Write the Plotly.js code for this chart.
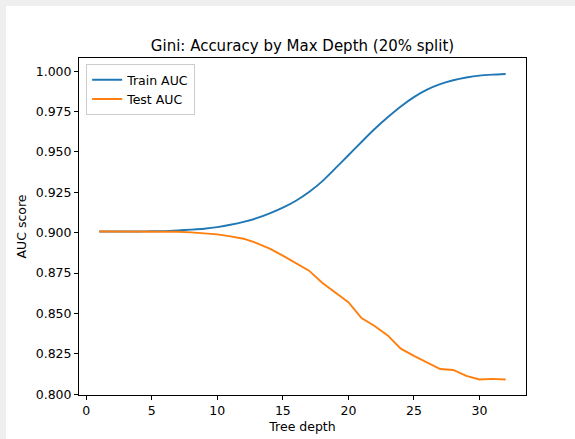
<!DOCTYPE html>
<html>
<head>
<meta charset="utf-8">
<script src="https://cdn.plot.ly/plotly-3.0.1.min.js"></script>
<style>
  html, body { margin: 0; padding: 0; background: #efefef; width: 575px; height: 439px; overflow: hidden; }
  #chart { position: absolute; left: 6px; top: 6px; width: 569px; height: 433px; background: #ffffff; }
</style>
</head>
<body>
<div id="chart"></div>
<script>
const depths = [1,2,3,4,5,6,7,8,9,10,11,12,13,14,15,16,17,18,19,20,21,22,23,24,25,26,27,28,29,30,31,32];
const trainAUC = [0.9008,0.9008,0.9008,0.9008,0.9009,0.9010,0.9014,0.9019,0.9025,0.9035,0.9049,0.9067,0.9090,0.9120,0.9155,0.9198,0.9252,0.9318,0.9398,0.9480,0.9562,0.9642,0.9715,0.9782,0.9840,0.9886,0.9920,0.9944,0.9961,0.9973,0.9979,0.9983];
const testAUC = [0.9008,0.9008,0.9008,0.9008,0.9008,0.9008,0.9006,0.9002,0.8996,0.8990,0.8977,0.8963,0.8936,0.8902,0.8858,0.8813,0.8765,0.8690,0.8632,0.8570,0.8471,0.8422,0.8364,0.8282,0.8237,0.8196,0.8156,0.8150,0.8113,0.8091,0.8095,0.8091];
const seriesNames = ["Train AUC", "Test AUC"];
const xTicks = [0,5,10,15,20,25,30];
const yTicks = [0.800,0.825,0.850,0.875,0.900,0.925,0.950,0.975,1.000];

const font = "DejaVu Sans, sans-serif";
const traces = [
  {x: depths, y: trainAUC, name: seriesNames[0], type: "scatter", mode: "lines",
   line: {color: "#1f77b4", width: 1.9, shape: "spline", smoothing: 0.6}},
  {x: depths, y: testAUC, name: seriesNames[1], type: "scatter", mode: "lines",
   line: {color: "#ff7f0e", width: 1.9}}
];
const axisCommon = {
  showline: true, linecolor: "#000", linewidth: 1, mirror: true,
  ticks: "outside", ticklen: 4, tickwidth: 1, tickcolor: "#000",
  showgrid: false, zeroline: false,
  tickfont: {family: font, size: 12.5, color: "#000"}
};
const layout = {
  width: 569, height: 433,
  margin: {l: 73, r: 49, t: 52, b: 44},
  paper_bgcolor: "#ffffff", plot_bgcolor: "#ffffff",
  font: {family: font, color: "#000"},
  title: {text: "Gini: Accuracy by Max Depth (20% split)", font: {family: font, size: 15, color: "#000"},
          x: 0.5, xref: "paper", xanchor: "center", y: 1 - 40/433, yref: "container", yanchor: "middle"},
  xaxis: Object.assign({}, axisCommon, {
    range: [-0.55, 33.55], tickvals: xTicks, ticktext: xTicks.map(String),
    title: {text: "Tree depth", font: {family: font, size: 12.5, color: "#000"}, standoff: 5}
  }),
  yaxis: Object.assign({}, axisCommon, {
    range: [0.7995, 1.0082], tickvals: yTicks, ticktext: yTicks.map(v => v.toFixed(3)),
    title: {text: "AUC score", font: {family: font, size: 12.5, color: "#000"}, standoff: 6}
  }),
  showlegend: true,
  legend: {x: 0.016, y: 0.982, xanchor: "left", yanchor: "top",
           bgcolor: "rgba(255,255,255,0.8)", bordercolor: "#cccccc", borderwidth: 1,
           font: {family: font, size: 12.5, color: "#000"}, tracegroupgap: 0, itemwidth: 30}
};
Plotly.newPlot("chart", traces, layout, {displayModeBar: false, staticPlot: true});
</script>
</body>
</html>
